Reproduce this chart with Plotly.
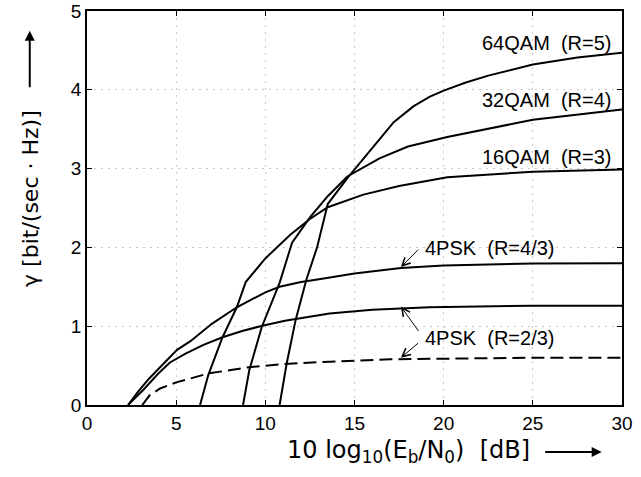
import plotly.graph_objects as go

# ---- data ----
x_4psk43 = [2.3, 2.9, 3.5, 4.3, 5.05, 5.8, 7.0, 8.4, 10.0, 10.8, 12.0, 13.1, 15.0, 17.6, 20.0, 25.0, 30.0]
y_4psk43 = [0.0, 0.18, 0.34, 0.52, 0.70, 0.81, 1.03, 1.24, 1.43, 1.50, 1.56, 1.60, 1.67, 1.74, 1.77, 1.795, 1.80]

x_4psk23 = [2.3, 3.15, 4.0, 4.65, 5.5, 6.5, 7.6, 8.7, 9.9, 11.1, 13.6, 16.0, 19.2, 25.0, 30.0]
y_4psk23 = [0.0, 0.19, 0.40, 0.54, 0.65, 0.76, 0.86, 0.94, 1.01, 1.07, 1.16, 1.21, 1.24, 1.26, 1.26]

x_4psk23_dash = [3.1, 3.5, 4.1, 5.05, 6.8, 9.1, 11.1, 13.6, 17.0, 20.0, 25.0, 30.0]
y_4psk23_dash = [0.0, 0.12, 0.21, 0.29, 0.40, 0.48, 0.52, 0.55, 0.58, 0.59, 0.60, 0.60]

x_16qam = [6.34, 6.8, 7.6, 8.4, 8.9, 10.0, 11.4, 12.5, 13.5, 15.5, 17.5, 20.2, 25.0, 30.0]
y_16qam = [0.0, 0.38, 0.86, 1.24, 1.56, 1.86, 2.16, 2.36, 2.51, 2.67, 2.78, 2.89, 2.96, 2.99]

x_32qam = [8.75, 9.1, 9.8, 10.8, 11.5, 12.5, 13.5, 14.6, 16.4, 18.0, 20.2, 25.0, 30.0]
y_32qam = [0.0, 0.44, 0.99, 1.55, 2.06, 2.38, 2.65, 2.90, 3.13, 3.28, 3.40, 3.62, 3.75]

x_64qam = [10.8, 11.2, 11.7, 12.3, 12.9, 13.5, 14.6, 17.2, 18.3, 19.2, 20.0, 21.2, 22.5, 25.0, 27.5, 30.0]
y_64qam = [0.0, 0.53, 1.08, 1.59, 2.0, 2.55, 2.88, 3.59, 3.79, 3.91, 3.99, 4.09, 4.18, 4.32, 4.41, 4.47]

x_ticks = [0, 5, 10, 15, 20, 25, 30]
y_ticks = [0, 1, 2, 3, 4, 5]

FONT = "Liberation Sans, Arial, sans-serif"
TFONT = "DejaVu Sans, sans-serif"

fig = go.Figure()
solid = dict(color="black", width=2)
for xs, ys in [(x_4psk43, y_4psk43), (x_4psk23, y_4psk23), (x_16qam, y_16qam),
               (x_32qam, y_32qam), (x_64qam, y_64qam)]:
    fig.add_trace(go.Scatter(x=xs, y=ys, mode="lines", line=solid, showlegend=False, hoverinfo="skip"))
fig.add_trace(go.Scatter(x=x_4psk23_dash, y=y_4psk23_dash, mode="lines",
                         line=dict(color="black", width=2, dash="13px,6px"),
                         showlegend=False, hoverinfo="skip"))

lab_font = dict(family=FONT, size=20, color="black")
# right-aligned QAM labels
for txt, yy in [("64QAM&nbsp;&nbsp;(R=5)", 4.59), ("32QAM&nbsp;&nbsp;(R=4)", 3.87), ("16QAM&nbsp;&nbsp;(R=3)", 3.15)]:
    fig.add_annotation(x=29.5, y=yy, text=txt, showarrow=False, xanchor="right", yanchor="middle", font=lab_font)
# 4PSK labels
fig.add_annotation(x=18.85, y=1.99, text="4PSK&nbsp;&nbsp;(R=4/3)", showarrow=False, xanchor="left", yanchor="middle", font=lab_font)
fig.add_annotation(x=18.85, y=0.85, text="4PSK&nbsp;&nbsp;(R=2/3)", showarrow=False, xanchor="left", yanchor="middle", font=lab_font)
# thin pointer arrows
arr = dict(showarrow=True, arrowhead=5, arrowsize=1.6, arrowwidth=1, arrowcolor="black",
           axref="x", ayref="y", text="")
fig.add_annotation(x=17.6, y=1.75, ax=18.65, ay=1.99, **arr)
fig.add_annotation(x=17.6, y=1.25, ax=18.65, ay=0.92, **arr)
fig.add_annotation(x=17.6, y=0.60, ax=18.65, ay=0.80, **arr)

# axis titles as annotations with arrows
fig.add_annotation(xref="paper", yref="paper", x=0.600, y=-0.119,
                   text="10 log<sub>10</sub>(E<sub>b</sub>/N<sub>0</sub>)&nbsp;&nbsp;[dB]",
                   showarrow=False, xanchor="center", yanchor="middle",
                   font=dict(family=TFONT, size=24, color="black"))
fig.add_annotation(xref="paper", yref="paper", x=0.962, y=-0.119, ax=-58, ay=0,
                   text="", showarrow=True, arrowhead=2, arrowsize=1, arrowwidth=2, arrowcolor="black")
fig.add_annotation(xref="paper", yref="paper", x=-0.107, y=0.525,
                   text="γ [bit/(sec · Hz)]", textangle=-90,
                   showarrow=False, xanchor="center", yanchor="middle",
                   font=dict(family=TFONT, size=22, color="black"))
fig.add_annotation(xref="paper", yref="paper", x=-0.107, y=0.950, ax=0, ay=58,
                   text="", showarrow=True, arrowhead=2, arrowsize=1, arrowwidth=2, arrowcolor="black")

axis_common = dict(showline=True, linecolor="black", linewidth=1.5, mirror="ticks",
                   ticks="inside", ticklen=5, tickcolor="black", tickwidth=1,
                   showgrid=True, gridcolor="#c8c8c8", gridwidth=1, griddash="2px,5px",
                   zeroline=False, automargin=False,
                   tickfont=dict(family=FONT, size=19, color="black"))
fig.update_xaxes(range=[0, 30], tickvals=x_ticks, **axis_common)
fig.update_yaxes(range=[0, 5], tickvals=y_ticks, **axis_common)

fig.update_layout(width=641, height=477, margin=dict(l=87, r=19, t=11, b=72, autoexpand=False),
                  plot_bgcolor="white", paper_bgcolor="white", showlegend=False)

fig.write_html("out.html", config={"displayModeBar": False},
               post_script="document.body.style.margin='0px';")
